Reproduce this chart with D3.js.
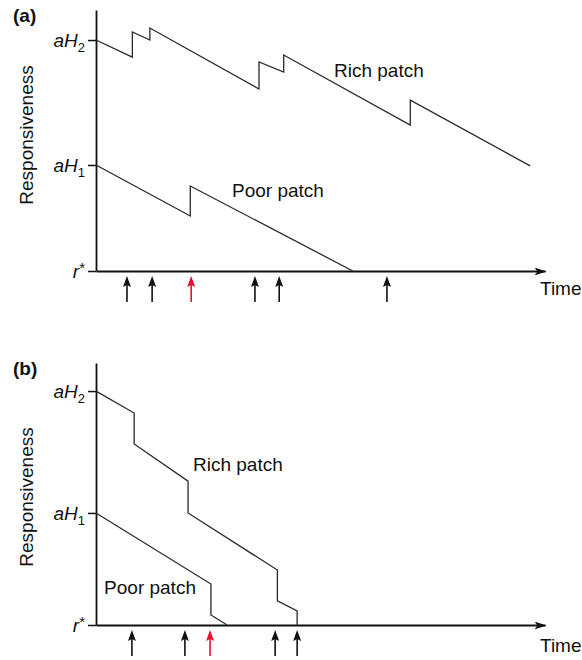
<!DOCTYPE html>
<html>
<head>
<meta charset="utf-8">
<script src="https://cdn.jsdelivr.net/npm/d3@7"></script>
<style>
  body { margin: 0; background: #fff; }
  svg text { font-family: 'Liberation Sans', Arial, sans-serif; fill: #111; }
</style>
</head>
<body>
<svg id="chart" width="582" height="660"></svg>
<script>
// time runs 0..100 along the axis, responsiveness 0 (r*) .. 1 (aH2)
const timeDomain = [0, 100]

// panel (a)
const richA = [[0, 1.0], [8.1, 0.926], [8.1, 1.035], [12.0, 1.0], [12.0, 1.052], [36.3, 0.788], [36.3, 0.905],
  [41.8, 0.861], [41.8, 0.935], [70.0, 0.632], [70.0, 0.74], [96.7, 0.455]]
const poorA = [[0, 0.459], [21.0, 0.238], [21.0, 0.368], [57.2, 0]]
const encountersA = [6.9, 12.5, 21.2, 35.4, 40.8, 64.8]
const markedA = 2
const ticksA = [0, 0.459, 1.0]
const topA = 1.13

// panel (b)
const richB = [[0, 1.0], [8.5, 0.906], [8.5, 0.774], [20.5, 0.615], [20.5, 0.479], [40.4, 0.235], [40.4, 0.103],
  [44.8, 0.06], [44.8, 0]]
const poorB = [[0, 0.479], [25.6, 0.175], [25.6, 0.043], [29.2, 0]]
const encountersB = [8.0, 19.8, 25.4, 39.9, 44.8]
const markedB = 2
const ticksB = [0, 0.479, 1.0]
const topB = 1.12

const tickLabels = [['r', '*', 'sup'], ['aH', '1', 'sub'], ['aH', '2', 'sub']]

const svg = d3.select('#chart')

svg
  .append('defs')
  .append('marker')
  .attr('id', 'axisArrow')
  .attr('viewBox', '0 0 12 8')
  .attr('refX', 11)
  .attr('refY', 4)
  .attr('markerWidth', 12)
  .attr('markerHeight', 8)
  .attr('markerUnits', 'userSpaceOnUse')
  .attr('orient', 'auto')
  .append('path')
  .attr('d', 'M0,0 L12,4 L0,8 L3,4 Z')
  .attr('fill', '#111')

const x = d3.scaleLinear().domain(timeDomain).range([96, 545])

function drawPanel(p) {
  const y = d3.scaleLinear().domain([0, p.top]).range([p.base, p.axisTop])
  const g = svg.append('g')

  // y axis with custom tick labels
  const gY = g
    .append('g')
    .attr('transform', `translate(${x(0)},0)`)
    .call(d3.axisLeft(y).tickValues(p.ticks).tickSize(8).tickSizeOuter(0).tickPadding(3).tickFormat(''))
  gY.select('.domain').attr('stroke', '#111').attr('stroke-width', 1.8)
  gY.selectAll('.tick line').attr('stroke', '#111').attr('stroke-width', 1.5)
  gY.selectAll('.tick text').each(function (d, i) {
    const t = d3.select(this).attr('font-size', 19).attr('font-style', 'italic').attr('dy', '0.35em')
    const lab = tickLabels[i]
    t.append('tspan').text(lab[0])
    t.append('tspan')
      .attr('font-size', lab[2] === 'sub' ? 13 : 15)
      .attr('font-style', 'normal')
      .attr('dy', lab[2] === 'sub' ? 5 : -5)
      .text(lab[1])
  })

  // x axis
  const gX = g
    .append('g')
    .attr('transform', `translate(0,${p.base})`)
    .call(d3.axisBottom(x).ticks(0).tickSizeOuter(0))
  gX.select('.domain').attr('stroke', '#111').attr('stroke-width', 1.8).attr('marker-end', 'url(#axisArrow)')

  g.append('text')
    .attr('x', 540)
    .attr('y', p.base + p.timeDy)
    .attr('font-size', 19)
    .text('Time')

  g.append('text')
    .attr('x', 13)
    .attr('y', p.labelY)
    .attr('font-size', 19)
    .attr('font-weight', 'bold')
    .text(p.name)

  g.append('text')
    .attr('transform', `translate(33,${p.titleY}) rotate(-90)`)
    .attr('text-anchor', 'middle')
    .attr('font-size', 19)
    .text('Responsiveness')

  const line = d3
    .line()
    .x((d) => x(d[0]))
    .y((d) => y(d[1]))

  for (const s of [p.rich, p.poor]) {
    g.append('path')
      .datum(s)
      .attr('fill', 'none')
      .attr('stroke', '#2a2a2a')
      .attr('stroke-width', 1.3)
      .attr('d', line)
  }

  g.append('text')
    .attr('x', x(p.richLab[0]))
    .attr('y', y(p.richLab[1]))
    .attr('font-size', 19)
    .text('Rich patch')
  g.append('text')
    .attr('x', x(p.poorLab[0]))
    .attr('y', y(p.poorLab[1]))
    .attr('font-size', 19)
    .text('Poor patch')

  // encounter arrows under the time axis
  const arrows = g
    .selectAll('.enc')
    .data(p.encounters)
    .enter()
    .append('g')
    .attr('class', 'enc')
    .attr('transform', (d) => `translate(${x(d)},${p.base + 5})`)
  const col = (d, i) => (i === p.marked ? '#e8112d' : '#111')
  arrows
    .append('line')
    .attr('y1', 6)
    .attr('y2', 26)
    .attr('stroke', col)
    .attr('stroke-width', 1.6)
  arrows
    .append('path')
    .attr('d', 'M0,0 L4,11 L0,9 L-4,11 Z')
    .attr('fill', col)
}

drawPanel({
  name: '(a)', base: 271, axisTop: 10, top: topA, ticks: ticksA, rich: richA, poor: poorA,
  encounters: encountersA, marked: markedA, labelY: 22, titleY: 135, timeDy: 24,
  richLab: [53.0, 0.84], poorLab: [30.3, 0.32]
})
drawPanel({
  name: '(b)', base: 625, axisTop: 363, top: topB, ticks: ticksB, rich: richB, poor: poorB,
  encounters: encountersB, marked: markedB, labelY: 375, titleY: 497, timeDy: 27,
  richLab: [21.6, 0.658], poorLab: [1.8, 0.132]
})
</script>
</body>
</html>
